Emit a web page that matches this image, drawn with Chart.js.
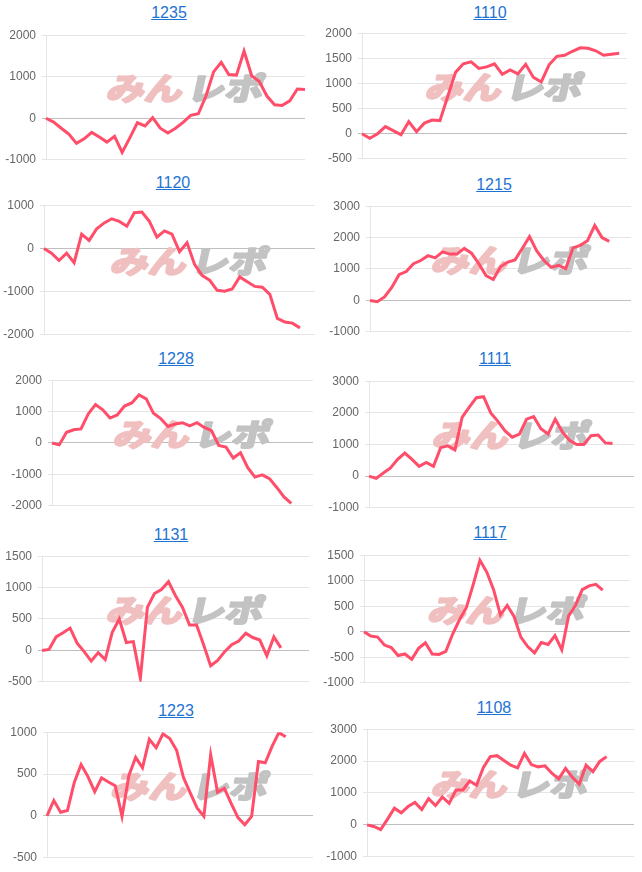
<!DOCTYPE html>
<html>
<head>
<meta charset="utf-8">
<script src="https://cdn.jsdelivr.net/npm/chart.js@4.4.0/dist/chart.umd.min.js"></script>
<style>
  body { margin: 0; background: #fff; width: 642px; height: 872px; position: relative; overflow: hidden;
         font-family: Arial, "Liberation Sans", sans-serif; }
  .ttl { position: absolute; width: 200px; text-align: center; font-size: 16px; line-height: 18px; }
  .ttl a { color: #1e73d2; text-decoration: underline; }
  canvas { position: absolute; }
</style>
</head>
<body>
<script>
// machine numbers (titles)
const titles = ['1235', '1110', '1120', '1215', '1228', '1111', '1131', '1117', '1223', '1108'];

// number of days on each x axis (labels are hidden)
const dayCounts = [35, 35, 37, 37, 37, 38, 39, 40, 40, 40];

// y axis ticks: [min, max, step]
const yTicks = [
    [-1000, 2000, 1000],
    [-500, 2000, 500],
    [-2000, 1000, 1000],
    [-1000, 3000, 1000],
    [-2000, 2000, 1000],
    [-1000, 3000, 1000],
    [-500, 1500, 500],
    [-1000, 1500, 500],
    [-500, 1000, 500],
    [-1000, 3000, 1000]
];

const d1235 = [0, -93, -240, -380, -605, -496, -341, -450, -574, -434, -822, -473, -108, -186, 15, -240, -357, -240, -100, 70,
               108, 535, 1116, 1349, 1054, 1039, 1620, 1023, 884, 535, 326, 310, 419, 705, 690];
const d1110 = [0, -90, 0, 140, 60, -20, 240, 40, 210, 270, 260, 740, 1220, 1390, 1430, 1300, 1330, 1390, 1180, 1270,
               1190, 1380, 1120, 1030, 1370, 1540, 1560, 1640, 1710, 1700, 1650, 1560, 1580, 1600];
const d1120 = [0, -110, -280, -110, -330, 330, 185, 455, 590, 685, 625, 515, 825, 840, 625, 260, 405, 330, -75, 130,
               -370, -625, -735, -970, -990, -940, -660, -770, -880, -900, -1065, -1620, -1705, -1730, -1840];
const d1215 = [0, -40, 110, 415, 820, 920, 1170, 1270, 1425, 1355, 1545, 1475, 1475, 1655, 1505, 1170, 790, 665, 1070, 1220,
               1290, 1655, 2030, 1575, 1270, 1050, 1120, 1010, 1675, 1755, 1900, 2385, 2000, 1880];
const d1228 = [0, -60, 340, 420, 450, 925, 1225, 1055, 795, 895, 1175, 1275, 1530, 1405, 945, 775, 525, 605, 645, 545,
               645, 495, 390, -80, -130, -480, -310, -785, -1085, -1015, -1135, -1415, -1720, -1920];
const d1111 = [0, -70, 100, 260, 530, 730, 530, 310, 430, 310, 900, 960, 830, 1860, 2180, 2480, 2510, 2000, 1730, 1430,
               1230, 1330, 1800, 1880, 1500, 1330, 1800, 1400, 1130, 1000, 1000, 1280, 1300, 1050, 1030];
const d1131 = [0, 15, 215, 280, 355, 115, -20, -170, -35, -145, 290, 500, 125, 140, -440, 685, 905, 970, 1095, 870,
               685, 405, 405, 90, -245, -160, -20, 90, 150, 275, 205, 165, -85, 215, 40];
const d1117 = [0, -85, -105, -260, -310, -465, -435, -540, -325, -215, -435, -445, -385, -45, 235, 470, 920, 1400, 1170, 825,
               330, 515, 300, -105, -290, -415, -210, -250, -75, -355, 310, 515, 825, 900, 930, 815];
const d1223 = [0, 185, 45, 65, 400, 615, 470, 290, 455, 405, 360, -5, 480, 700, 575, 915, 815, 980, 925, 785,
               460, 275, 95, -5, 730, 285, 330, 150, -20, -105, -5, 650, 635, 830, 995, 945];
const d1108 = [0, -50, -150, 180, 525, 380, 575, 705, 480, 825, 605, 875, 675, 1095, 1095, 1375, 1245, 1800, 2140, 2170,
               2020, 1870, 1790, 2240, 1890, 1820, 1850, 1620, 1445, 1770, 1490, 1275, 1870, 1670, 1990, 2140];

const series = [d1235, d1110, d1120, d1215, d1228, d1111, d1131, d1117, d1223, d1108];

// where each chart sits on the page: title centre / top, plot left, right, top, bottom
const boxes = [
    { col: 0,   cx: 169, ty: 4,   L: 46,  R: 305, T: 31.7,  B: 162.3 },
    { col: 321, cx: 490, ty: 3.5, L: 362, R: 627, T: 30,    B: 162.3 },
    { col: 0,   cx: 173, ty: 174, L: 44,  R: 315, T: 201.7, B: 337.7 },
    { col: 321, cx: 494, ty: 176, L: 370, R: 631, T: 203.3, B: 335 },
    { col: 0,   cx: 176, ty: 350, L: 52,  R: 313, T: 377.3, B: 509.3 },
    { col: 321, cx: 495, ty: 350, L: 369, R: 634, T: 377.7, B: 510.7 },
    { col: 0,   cx: 171, ty: 526, L: 42,  R: 309, T: 553.3, B: 685.7 },
    { col: 321, cx: 490, ty: 524, L: 364, R: 630, T: 551.7, B: 685.7 },
    { col: 0,   cx: 176, ty: 702, L: 47,  R: 313, T: 729,   B: 860.7 },
    { col: 321, cx: 494, ty: 699, L: 367, R: 634, T: 726,   B: 860 }
];

const dayLabels = n => Array.from({ length: n }, (_, i) => String(i + 1));

// logo drawn behind the line
const watermark = {
    id: 'watermark',
    beforeDatasetsDraw(chart) {
        const { ctx, chartArea: a } = chart;
        ctx.save();
        ctx.translate((a.left + a.right) / 2 + 11, (a.top + a.bottom) / 2 - 10);
        ctx.transform(1.22, 0, -0.22, 1, 0, 0);
        ctx.font = 'bold 31px "Noto Sans CJK JP"';
        ctx.textBaseline = 'middle';
        ctx.lineWidth = 2.5;
        ctx.lineJoin = 'round';
        ctx.textAlign = 'right';
        ctx.fillStyle = ctx.strokeStyle = '#f0c0c0';
        ctx.strokeText('みん', -2, 1);
        ctx.fillText('みん', -2, 1);
        ctx.textAlign = 'left';
        ctx.fillStyle = ctx.strokeStyle = '#c3c3c3';
        ctx.strokeText('レポ', 2, 1);
        ctx.fillText('レポ', 2, 1);
        ctx.restore();
    }
};

Chart.defaults.font.family = 'Arial, "Liberation Sans", sans-serif';
Chart.defaults.font.size = 12;
Chart.defaults.color = '#666';

boxes.forEach((b, i) => {
    const t = document.createElement('div');
    t.className = 'ttl';
    t.style.left = (b.cx - 100) + 'px';
    t.style.top = b.ty + 'px';
    t.innerHTML = '<a href="#">' + titles[i] + '</a>';
    document.body.appendChild(t);

    const cv = document.createElement('canvas');
    const w = Math.round(b.R - b.col + 3);
    const h = Math.round(b.B - b.T + 20);
    cv.width = w; cv.height = h;
    cv.style.left = b.col + 'px';
    cv.style.top = (b.T - 10) + 'px';
    cv.style.width = w + 'px';
    cv.style.height = h + 'px';
    document.body.appendChild(cv);

    const axisW = b.L - b.col;
    const [min, max, step] = yTicks[i];

    new Chart(cv.getContext('2d'), {
        type: 'line',
        data: {
            labels: dayLabels(dayCounts[i]),
            datasets: [{
                data: series[i],
                borderColor: 'rgb(255, 77, 106)',
                borderWidth: 3,
                pointRadius: 0,
                fill: false,
                tension: 0
            }]
        },
        options: {
            responsive: false,
            animation: false,
            layout: { padding: { top: 10, bottom: 10, left: 0, right: 3 } },
            plugins: { legend: { display: false }, tooltip: { enabled: false } },
            scales: {
                x: { display: false },
                y: {
                    min: min,
                    max: max,
                    ticks: { stepSize: step, padding: 6, color: '#666', callback: v => String(v) },
                    grid: {
                        tickLength: 4,
                        color: c => (c.tick && c.tick.value === 0) ? 'rgba(0,0,0,0.25)' : 'rgba(0,0,0,0.1)'
                    },
                    border: { color: 'rgba(0,0,0,0.1)' },
                    afterFit: s => { s.width = axisW; }
                }
            }
        },
        plugins: [watermark]
    });
});
</script>
</body>
</html>
